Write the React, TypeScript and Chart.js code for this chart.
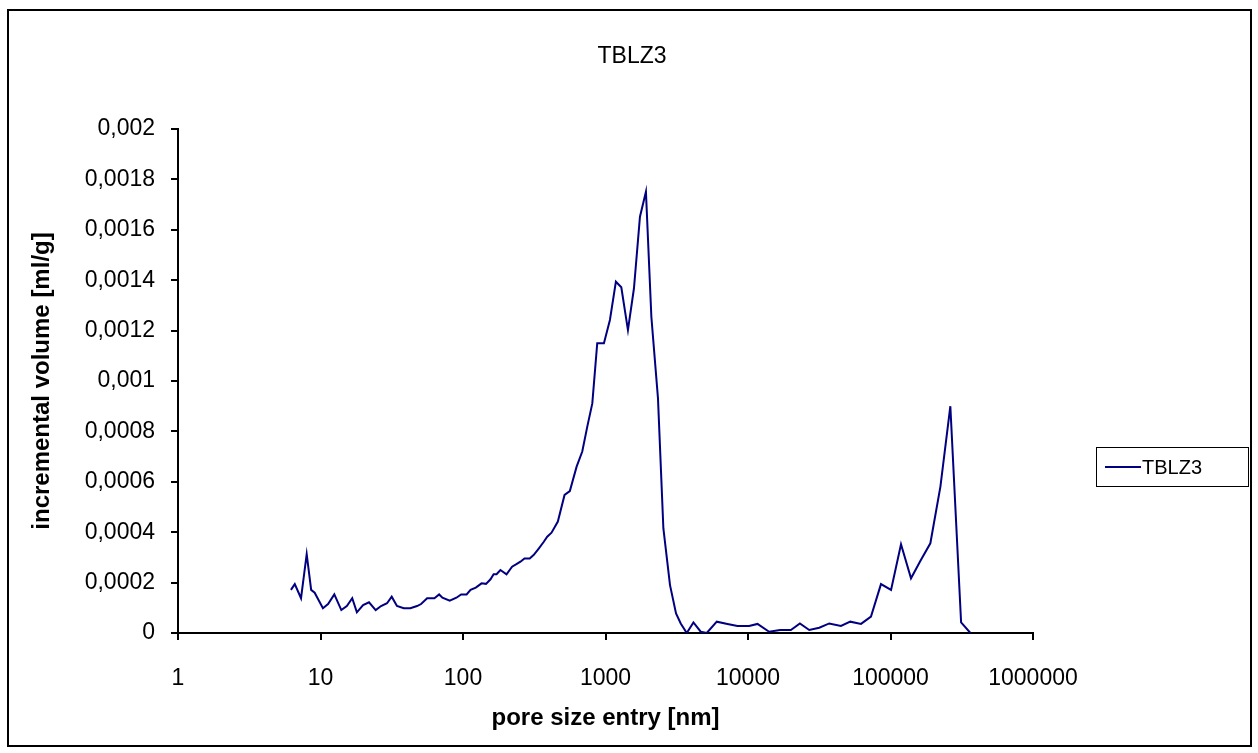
import React, { useEffect, useRef } from "react";
import { Chart, registerables } from "chart.js";

Chart.register(...registerables);

const chartTitle = "TBLZ3";
const seriesName = "TBLZ3";
const xTitle = "pore size entry [nm]";
const yTitle = "incremental volume [ml/g]";

const poreSize = [
  6.2, 6.6, 7.3, 8.0, 8.6, 9.1, 10.4, 11.3, 12.5, 14.0, 15.3, 16.7, 18.0, 19.9, 21.9, 24.4,
  26.6, 29.3, 31.6, 34.4, 38.4, 42.7, 47.6, 50.8, 56.0, 63.0, 68.0, 71.7, 80.7, 89.9, 97, 106,
  113, 123, 135, 145, 156, 164, 172, 183, 202, 221, 237, 253, 270, 294, 314, 341, 369, 390,
  418, 463, 516, 562, 627, 687, 745, 808, 875, 975, 1074, 1183, 1291, 1437, 1584, 1745, 1922,
  2098, 2335, 2548, 2836, 3126, 3372, 3717, 4141, 4660, 5133, 6040, 7175, 8440, 10180, 11660,
  14070, 16810, 19990, 23130, 26900, 31620, 37170, 44900, 52200, 62100, 72950, 85740, 100900,
  118500, 139300, 161900, 190400, 224000, 263000, 312900, 363700,
];

const volume = [
  0.000171, 0.000194, 0.000138, 0.000313, 0.000171, 0.00016, 0.000098, 0.000115, 0.000153,
  0.000091, 0.000107, 0.000138, 0.000082, 0.000111, 0.000122, 0.000091, 0.000107, 0.000118,
  0.000144, 0.000107, 0.000098, 0.000098, 0.000107, 0.000115, 0.000138, 0.000138, 0.000153,
  0.00014, 0.000128, 0.00014, 0.000153, 0.000153, 0.000171, 0.00018, 0.000197, 0.000195,
  0.000213, 0.000233, 0.000233, 0.00025, 0.000233, 0.000263, 0.000273, 0.000283, 0.000296,
  0.000296, 0.00031, 0.000336, 0.000362, 0.000382, 0.000398, 0.000442, 0.000548, 0.000563,
  0.00066, 0.00072, 0.000819, 0.000911, 0.00115, 0.00115, 0.001242, 0.001394, 0.001372,
  0.001202, 0.001368, 0.001652, 0.001751, 0.001255, 0.000931, 0.000415, 0.00019, 0.000078,
  0.000038, 0.0, 0.000042, 0.000005, 0.0, 0.000045, 0.000036, 0.000028, 0.000028, 0.000036,
  0.000005, 0.000012, 0.000012, 0.000038, 0.000012, 0.000021, 0.000038, 0.000028, 0.000045,
  0.000036, 0.000065, 0.000194, 0.000171, 0.000352, 0.000217, 0.000286, 0.000356, 0.000581,
  0.0009, 0.000042, 0.0,
];

const xTickValues = [1, 10, 100, 1000, 10000, 100000, 1000000];
const yMin = 0;
const yMax = 0.002;
const yStep = 0.0002;

const FONT = "'Liberation Sans', Arial, sans-serif";
const LINE_COLOR = "#000080";

function fmtY(v: number): string {
  return Number(v.toPrecision(6)).toString().replace(".", ",");
}

export default function App() {
  const ref = useRef<HTMLCanvasElement>(null);

  useEffect(() => {
    const canvas = ref.current;
    if (!canvas) return;

    const framePlugin = {
      id: "frameAndLegend",
      afterDraw(chart: any) {
        const ctx = chart.ctx as CanvasRenderingContext2D;
        const area = chart.chartArea;
        ctx.save();
        // outer chart border
        ctx.strokeStyle = "#000";
        ctx.lineWidth = 2;
        ctx.strokeRect(8, 10, 1243, 736);
        // chart title, centred on the whole chart
        ctx.fillStyle = "#000";
        ctx.font = `23px ${FONT}`;
        ctx.textAlign = "center";
        ctx.textBaseline = "middle";
        ctx.fillText(chartTitle, chart.width / 2 + 3, 57);
        // legend box
        const lx = area.right + 63;
        const ly = (area.top + area.bottom) / 2 + 86;
        ctx.strokeStyle = "#000";
        ctx.lineWidth = 1;
        ctx.strokeRect(lx + 0.5, ly - 19.5, 152, 39);
        ctx.strokeStyle = LINE_COLOR;
        ctx.lineWidth = 2;
        ctx.beginPath();
        ctx.moveTo(lx + 9, ly);
        ctx.lineTo(lx + 45, ly);
        ctx.stroke();
        ctx.fillStyle = "#000";
        ctx.font = `20px ${FONT}`;
        ctx.textBaseline = "middle";
        ctx.textAlign = "left";
        ctx.fillText(seriesName, lx + 46, ly + 1);
        ctx.restore();
      },
    };

    const chart = new Chart(canvas, {
      type: "line",
      data: {
        datasets: [
          {
            label: seriesName,
            data: poreSize.map((x, i) => ({ x, y: volume[i] })),
            borderColor: LINE_COLOR,
            borderWidth: 2,
            pointRadius: 0,
            tension: 0,
            fill: false,
          },
        ],
      },
      options: {
        responsive: false,
        animation: false,
        parsing: false as any,
        layout: { padding: { left: 10, right: 225, top: 129, bottom: 0 } },
        plugins: {
          legend: { display: false },
          tooltip: { enabled: false },
          title: { display: false },
        },
        scales: {
          x: {
            type: "logarithmic",
            min: 1,
            max: 1000000,
            afterBuildTicks: (s: any) => {
              s.ticks = xTickValues.map((v) => ({ value: v }));
            },
            afterFit: (s: any) => {
              s.height = 120;
            },
            ticks: {
              autoSkip: false,
              maxRotation: 0,
              color: "#000",
              font: { family: FONT, size: 23 },
              padding: 25,
              callback: (v: any) => String(v),
            },
            grid: {
              display: true,
              drawOnChartArea: false,
              drawTicks: true,
              tickLength: 7,
              color: "#000",
              lineWidth: 2,
            },
            border: { display: true, color: "#000", width: 2 },
            title: {
              display: true,
              text: xTitle,
              color: "#000",
              font: { family: FONT, size: 24, weight: "bold" as any },
              padding: { top: 0, bottom: 20 },
            },
          },
          y: {
            type: "linear",
            min: yMin,
            max: yMax,
            afterFit: (s: any) => {
              s.width = 168;
            },
            ticks: {
              stepSize: yStep,
              color: "#000",
              font: { family: FONT, size: 23 },
              padding: 16,
              callback: (v: any) => fmtY(Number(v)),
            },
            grid: {
              display: true,
              drawOnChartArea: false,
              drawTicks: true,
              tickLength: 7,
              color: "#000",
              lineWidth: 2,
            },
            border: { display: true, color: "#000", width: 2 },
            title: {
              display: true,
              text: yTitle,
              color: "#000",
              font: { family: FONT, size: 24, weight: "bold" as any },
              padding: { top: 18, bottom: 0 },
            },
          },
        },
      },
      plugins: [framePlugin],
    });

    return () => chart.destroy();
  }, []);

  return (
    <div style={{ position: "absolute", left: 0, top: 0, width: 1258, height: 753, background: "#fff" }}>
      <canvas ref={ref} width={1258} height={753} style={{ display: "block" }} />
    </div>
  );
}
